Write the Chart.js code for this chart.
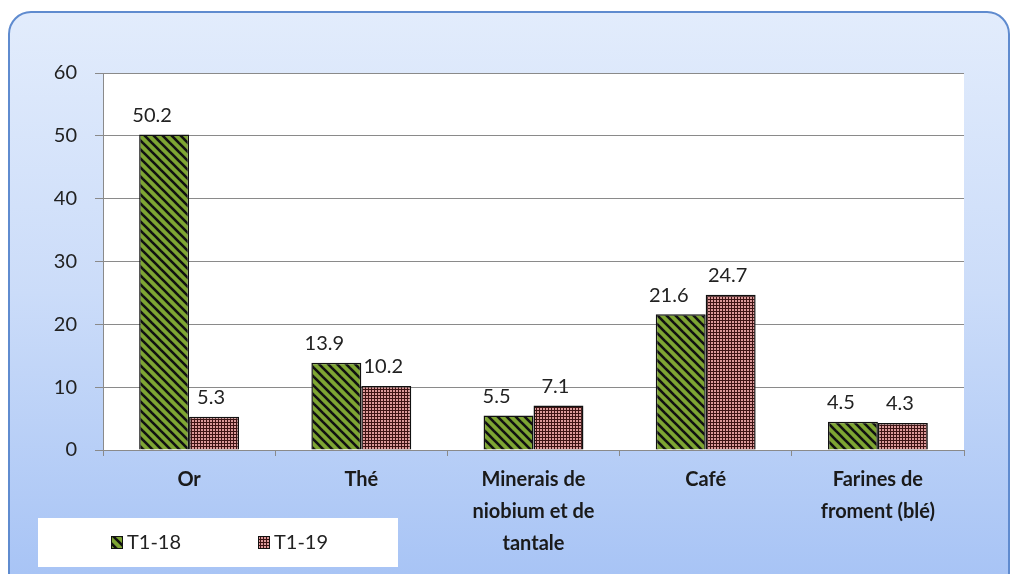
<!DOCTYPE html>
<html>
<head>
<meta charset="utf-8">
<script src="https://cdn.jsdelivr.net/npm/chart.js@4/dist/chart.umd.min.js"></script>
<style>
  body { margin: 0; background: #fff; }
  canvas { display: block; }
</style>
</head>
<body>
<canvas id="myChart" width="1012" height="574"></canvas>
<script>
// values
const categories = [
    ['Or'],
    ['Thé'],
    ['Minerais de', 'niobium et de', 'tantale'],
    ['Café'],
    ['Farines de', 'froment (blé)']
]
const seriesNames = ['T1-18', 'T1-19']
const valuesT118 = [50.2, 13.9, 5.5, 21.6, 4.5]
const valuesT119 = [5.3, 10.2, 7.1, 24.7, 4.3]
const yTicks = [0, 10, 20, 30, 40, 50, 60]

const FONT = 'Lato, "Open Sans", sans-serif'

function stripePattern(){
    const c = document.createElement('canvas')
    c.width = 9
    c.height = 9
    const x = c.getContext('2d')
    x.fillStyle = '#7ea533'
    x.fillRect(0, 0, 9, 9)
    x.strokeStyle = '#111'
    x.lineWidth = 2.6
    for(let k = -9; k <= 9; k += 9){
        x.beginPath()
        x.moveTo(k - 2, -2)
        x.lineTo(k + 11, 11)
        x.stroke()
    }
    return x.createPattern(c, 'repeat')
}

function dotPattern(){
    const c = document.createElement('canvas')
    c.width = 3
    c.height = 3
    const x = c.getContext('2d')
    x.fillStyle = '#3e1414'
    x.fillRect(0, 0, 3, 3)
    x.fillStyle = '#dc9a9a'
    x.fillRect(0, 0, 2, 2)
    return x.createPattern(c, 'repeat')
}

const greenFill = stripePattern()
const redFill = dotPattern()

// rounded blue frame + white plot area
const framePlugin = {
    id: 'frame',
    beforeDraw(chart){
        const ctx = chart.ctx
        const {left, top, right, bottom} = chart.chartArea
        ctx.save()
        const grad = ctx.createLinearGradient(0, 12, 0, 574)
        grad.addColorStop(0, '#e2ecfc')
        grad.addColorStop(0.5, '#cbdcf9')
        grad.addColorStop(1, '#a8c4f5')
        ctx.beginPath()
        ctx.roundRect(9, 12, 1000, 600, 22)
        ctx.fillStyle = grad
        ctx.fill()
        ctx.lineWidth = 2
        ctx.strokeStyle = '#5f8bcf'
        ctx.stroke()
        ctx.fillStyle = '#ffffff'
        ctx.fillRect(left, top, right - left, bottom - top)
        ctx.restore()
    }
}

// value labels above the bars
const valueLabels = {
    id: 'valueLabels',
    afterDatasetsDraw(chart){
        const ctx = chart.ctx
        ctx.save()
        ctx.font = '20px ' + FONT
        ctx.fillStyle = '#222'
        ctx.textAlign = 'center'
        ctx.textBaseline = 'bottom'
        chart.data.datasets.forEach((ds, i) => {
            const meta = chart.getDatasetMeta(i)
            const shift = i === 0 ? -12 : -3
            meta.data.forEach((bar, j) => {
                ctx.fillText(ds.data[j].toFixed(1), bar.x + shift, bar.y - 9)
            })
        })
        ctx.restore()
    }
}

// white legend box bottom-left
const legendBox = {
    id: 'legendBox',
    afterDraw(chart){
        const ctx = chart.ctx
        ctx.save()
        ctx.fillStyle = '#ffffff'
        ctx.fillRect(38, 518, 360, 49)
        ctx.font = '20px ' + FONT
        ctx.fillStyle = '#222'
        ctx.textBaseline = 'middle'
        const xs = [111, 258]
        chart.data.datasets.forEach((ds, i) => {
            ctx.fillStyle = ds.backgroundColor
            ctx.fillRect(xs[i], 536, 12, 13)
            ctx.strokeStyle = '#111'
            ctx.lineWidth = 1
            ctx.strokeRect(xs[i] + 0.5, 536.5, 11, 12)
            ctx.fillStyle = '#222'
            ctx.fillText(ds.label, xs[i] + 16, 543)
        })
        ctx.restore()
    }
}

new Chart(document.getElementById('myChart').getContext('2d'), {
    type: 'bar',
    data: {
        labels: categories,
        datasets: [
            {
                label: seriesNames[0],
                data: valuesT118,
                backgroundColor: greenFill,
                borderColor: '#111',
                borderWidth: 1.5
            },
            {
                label: seriesNames[1],
                data: valuesT119,
                backgroundColor: redFill,
                borderColor: '#111',
                borderWidth: 1.5
            }
        ]
    },
    options: {
        responsive: false,
        animation: false,
        layout: { padding: { left: 0, right: 48, top: 73, bottom: 0 } },
        datasets: {
            bar: { categoryPercentage: 0.58, barPercentage: 1 }
        },
        plugins: {
            legend: { display: false },
            tooltip: { enabled: false }
        },
        scales: {
            x: {
                offset: true,
                grid: {
                    offset: true,
                    drawOnChartArea: false,
                    tickLength: 6,
                    color: '#8a8a8a'
                },
                border: { color: '#8a8a8a' },
                ticks: {
                    color: '#1a1a1a',
                    padding: 8,
                    maxRotation: 0,
                    autoSkip: false,
                    font: { family: FONT, size: 20, weight: 'bold', lineHeight: 1.6 }
                },
                afterFit(scale){ scale.height = 124 }
            },
            y: {
                min: 0,
                max: 60,
                afterBuildTicks(scale){ scale.ticks = yTicks.map(v => ({value: v})) },
                grid: { color: '#8a8a8a', tickLength: 8 },
                border: { color: '#8a8a8a' },
                ticks: {
                    color: '#222',
                    padding: 18,
                    font: { family: FONT, size: 20 }
                },
                afterFit(scale){ scale.width = 103 }
            }
        }
    },
    plugins: [framePlugin, valueLabels, legendBox]
})
</script>
</body>
</html>
